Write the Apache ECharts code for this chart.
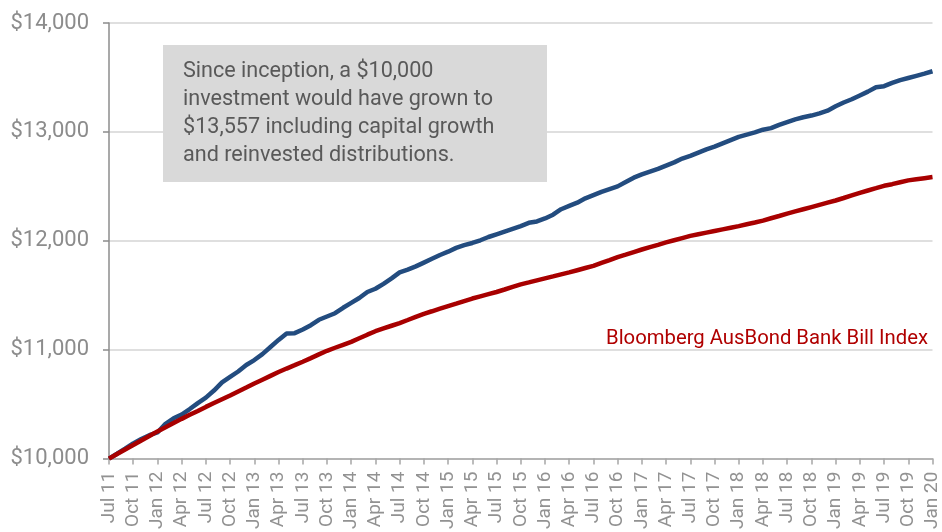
<!DOCTYPE html>
<html>
<head>
<meta charset="utf-8">
<script src="https://cdn.jsdelivr.net/npm/echarts@6/dist/echarts.min.js"></script>
<style>
html,body{margin:0;padding:0;background:#fff;}
#chart{width:942px;height:532px;}
</style>
</head>
<body>
<div id="chart"></div>
<script>
// Monthly categories Jul 11 .. Jan 20
const months = ['Jan','Feb','Mar','Apr','May','Jun','Jul','Aug','Sep','Oct','Nov','Dec'];
const categories = [];
for (let y = 11; y <= 20; y++) {
  for (let m = 0; m < 12; m++) {
    if (y === 11 && m < 6) continue;
    if (y === 20 && m > 0) continue;
    categories.push(months[m] + ' ' + y);
  }
}

// Fund value of $10,000 invested
const fundValues = [
  10000,10045,10092,10140,10180,10215,10240,10320,10370,10405,10455,10510,
  10560,10625,10700,10750,10800,10860,10905,10960,11025,11090,11150,11152,
  11185,11225,11275,11305,11335,11385,11430,11475,11530,11560,11605,11655,
  11710,11735,11765,11800,11835,11870,11900,11935,11960,11980,12005,12035,
  12060,12085,12110,12135,12165,12178,12205,12240,12290,12320,12350,12390,
  12420,12450,12475,12500,12540,12580,12610,12635,12660,12690,12720,12755,
  12780,12810,12840,12865,12895,12925,12955,12975,12995,13020,13035,13065,
  13090,13115,13135,13150,13170,13195,13235,13270,13300,13335,13370,13410,
  13420,13450,13475,13495,13515,13535,13557
];

// Bloomberg AusBond Bank Bill Index
const indexValues = [
  10000,10042,10084,10125,10167,10208,10250,10288,10327,10365,10402,10438,
  10475,10510,10545,10580,10617,10653,10690,10725,10760,10795,10827,10858,
  10890,10923,10957,10990,11018,11045,11072,11105,11138,11170,11195,11220,
  11245,11273,11302,11330,11353,11377,11400,11423,11447,11470,11490,11510,
  11530,11553,11577,11600,11618,11637,11655,11673,11692,11710,11730,11750,
  11770,11797,11823,11850,11873,11897,11920,11942,11963,11985,12005,12025,
  12045,12060,12075,12090,12105,12120,12135,12152,12168,12185,12207,12228,
  12250,12270,12290,12310,12330,12350,12370,12393,12417,12440,12462,12483,
  12505,12520,12538,12555,12565,12575,12585
];

const yTicks = [10000, 11000, 12000, 13000, 14000];
const noteLines = [
  'Since inception, a $10,000',
  'investment would have grown to',
  '$13,557 including capital growth',
  'and reinvested distributions.'
];
const indexName = 'Bloomberg AusBond Bank Bill Index';

const FONT = 'Roboto';
const chart = echarts.init(document.getElementById('chart'));
chart.setOption({
  animation: false,
  backgroundColor: '#ffffff',
  grid: { left: 109, right: 1, top: 23, bottom: 73, containLabel: false },
  xAxis: {
    type: 'category',
    data: categories,
    boundaryGap: false,
    axisLine: { lineStyle: { color: '#a6a6a6', width: 1.5 } },
    axisTick: { show: true, interval: 2, length: 6, lineStyle: { color: '#a6a6a6', width: 1.5 } },
    axisLabel: {
      interval: 2, rotate: 90, margin: 13,
      color: '#929292', fontSize: 19, fontFamily: FONT
    },
    splitLine: { show: false }
  },
  yAxis: {
    type: 'value',
    min: yTicks[0], max: yTicks[yTicks.length - 1], interval: 1000,
    axisLine: { show: true, lineStyle: { color: '#8c8c8c', width: 1.5 } },
    axisTick: { show: true, length: 6, lineStyle: { color: '#8c8c8c', width: 1.5 } },
    axisLabel: {
      margin: 20, color: '#8c8c8c', fontSize: 22, fontFamily: FONT,
      formatter: v => '$' + v.toLocaleString('en-US')
    },
    splitLine: { show: true, lineStyle: { color: '#d4d4d4', width: 1.5 } }
  },
  series: [
    {
      name: 'Fund', type: 'line', data: fundValues, symbol: 'none',
      lineStyle: { color: '#234c7f', width: 4.5 }, z: 3
    },
    {
      name: indexName, type: 'line', data: indexValues, symbol: 'none',
      lineStyle: { color: '#a80000', width: 4.5 }, z: 4
    }
  ],
  graphic: [
    { type: 'rect', left: 163, top: 45, shape: { width: 384, height: 137 },
      style: { fill: '#d9d9d9' }, z: 10 },
    { type: 'text', left: 183, top: 58, z: 11,
      style: { text: noteLines.join('\n'), fill: '#595959', font: '21.6px ' + FONT, lineHeight: 28 } },
    { type: 'text', left: 606, top: 329, z: 11,
      style: { text: indexName, fill: '#b00000', font: '20.3px ' + FONT } }
  ]
});
</script>
</body>
</html>
